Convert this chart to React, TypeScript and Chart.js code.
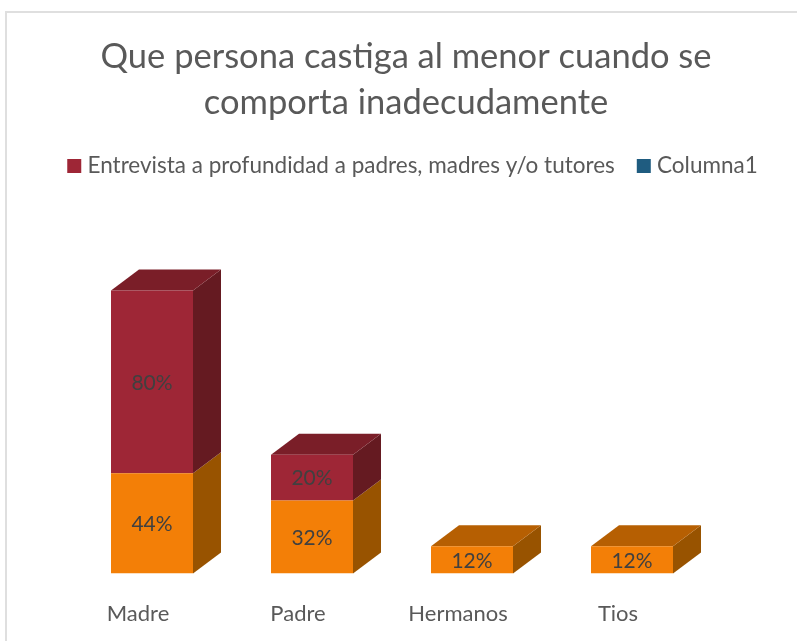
import React, { useEffect, useRef } from "react";
import { Chart, registerables } from "chart.js";

Chart.register(...registerables);

const categories = ["Madre", "Padre", "Hermanos", "Tios"];
const baseValues = [44, 32, 12, 12];
const interviewValues = [80, 20, 0, 0];
const columnValues = [0, 0, 0, 0];
const titleLines = ["Que persona castiga al menor cuando se", "comporta inadecudamente"];
const interviewLabel = "Entrevista a profundidad a padres, madres y/o tutores";
const columnLabel = "Columna1";

const FONT = "Lato, sans-serif";
const DX = 28;
const DY = 21;
const faces = [
  { side: "#985300", top: "#b65f02" },
  { side: "#651a21", top: "#7a1e28" },
  { side: "#123c55", top: "#164a69" },
];

const poly = (ctx: CanvasRenderingContext2D, pts: number[][], color: string) => {
  ctx.beginPath();
  pts.forEach(([x, y], i) => (i ? ctx.lineTo(x, y) : ctx.moveTo(x, y)));
  ctx.closePath();
  ctx.fillStyle = color;
  ctx.fill();
};

const box3d = {
  id: "box3d",
  beforeDatasetsDraw(chart: any) {
    const ctx = chart.ctx;
    const sets = chart.data.datasets;
    sets.forEach((ds: any, d: number) => {
      const meta = chart.getDatasetMeta(d);
      meta.data.forEach((bar: any, i: number) => {
        if (!ds.data[i]) return;
        const { x, y, base, width } = bar.getProps(["x", "y", "base", "width"], true);
        const l = x - width / 2;
        const r = x + width / 2;
        poly(ctx, [[r, y], [r + DX, y - DY], [r + DX, base - DY], [r, base]], faces[d].side);
        const covered = sets.slice(d + 1).some((o: any) => o.data[i]);
        if (!covered) poly(ctx, [[l, y], [l + DX, y - DY], [r + DX, y - DY], [r, y]], faces[d].top);
      });
    });
  },
  afterDatasetsDraw(chart: any) {
    const ctx = chart.ctx;
    ctx.save();
    ctx.font = `21px ${FONT}`;
    ctx.fillStyle = "#404040";
    ctx.textAlign = "center";
    ctx.textBaseline = "middle";
    chart.data.datasets.forEach((ds: any, d: number) => {
      chart.getDatasetMeta(d).data.forEach((bar: any, i: number) => {
        if (!ds.data[i]) return;
        const { x, y, base } = bar.getProps(["x", "y", "base"], true);
        ctx.fillText(`${ds.data[i]}%`, x, (y + base) / 2 + 1);
      });
    });
    ctx.restore();
  },
  afterLayout(chart: any) {
    chart.legend.left += 9;
    chart.legend.right += 9;
  },
};

const hiddenAxis = (position: string, width: number) => ({
  position,
  min: 0,
  ticks: { display: false },
  grid: { display: false },
  border: { display: false },
  afterFit: (scale: any) => {
    scale.width = width;
  },
});

export default function App() {
  const ref = useRef<HTMLCanvasElement>(null);
  useEffect(() => {
    const chart = new Chart(ref.current as HTMLCanvasElement, {
      type: "bar",
      plugins: [box3d],
      data: {
        labels: categories,
        datasets: [
          { label: "", data: baseValues, backgroundColor: "#f37f07" },
          { label: interviewLabel, data: interviewValues, backgroundColor: "#9e2636" },
          { label: columnLabel, data: columnValues, backgroundColor: "#1f5c80" },
        ],
      },
      options: {
        responsive: false,
        animation: false,
        layout: { padding: { left: 0, right: 0, top: 0, bottom: 12 } },
        datasets: { bar: { barPercentage: 1, categoryPercentage: 0.5125, stack: "s" } },
        plugins: {
          tooltip: { enabled: false },
          title: {
            display: true,
            text: titleLines,
            color: "#595959",
            font: { family: FONT, size: 34.5, weight: "normal", lineHeight: 1.33 },
            padding: { top: 34, bottom: 2 },
          },
          legend: {
            position: "top",
            labels: {
              color: "#595959",
              font: { family: FONT, size: 22.5 },
              boxWidth: 4,
              boxHeight: 4,
              padding: 27,
              filter: (item: any) => item.text !== "",
              generateLabels: (chart: any) =>
                Chart.defaults.plugins.legend.labels
                  .generateLabels(chart)
                  .map((it: any) => ({ ...it, lineWidth: 10, strokeStyle: it.fillStyle })),
            },
          },
        },
        scales: {
          x: {
            stacked: true,
            grid: { display: false },
            border: { display: false },
            ticks: { color: "#595959", font: { family: FONT, size: 22 }, labelOffset: -14, padding: 19, maxRotation: 0 },
          },
          y: { ...hiddenAxis("left", 66), stacked: true, max: 169.2 },
          yRight: { ...hiddenAxis("right", 94), max: 1 },
        },
      },
    } as any);
    return () => chart.destroy();
  }, []);
  return (
    <div style={{ position: "absolute", left: 0, top: 0, width: 797, height: 641, overflow: "hidden", background: "#fff" }}>
      <div style={{ position: "absolute", left: 5, top: 11, width: 900, height: 900, border: "2px solid #dfdfdf" }} />
      <canvas ref={ref} width={800} height={658} style={{ position: "absolute", left: 6, top: 0 }} />
    </div>
  );
}
